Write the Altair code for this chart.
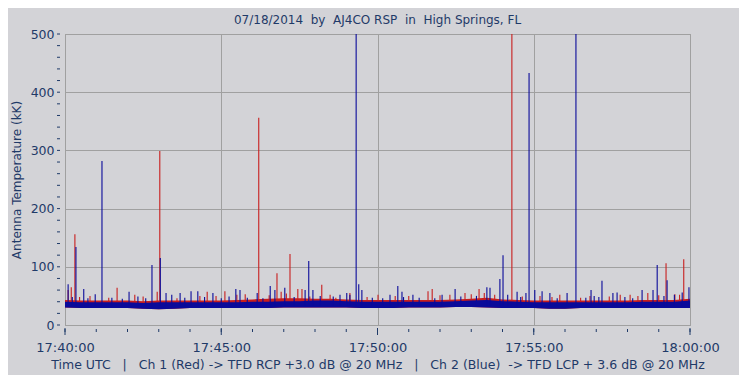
import json
import altair as alt
import pandas as pd

# ---------------- data ----------------
# time is seconds after 17:40:00 UTC
x_tick_values = [0, 300, 600, 900, 1200]
x_tick_labels = ["17:40:00", "17:45:00", "17:50:00", "17:55:00", "18:00:00"]
x_minor_ticks = [0, 60, 120, 180, 240, 300, 360, 420, 480, 540, 600, 660, 720,
                 780, 840, 900, 960, 1020, 1080, 1140, 1200]
y_tick_values = [0, 100, 200, 300, 400, 500]
y_minor_ticks = [0, 20, 40, 60, 80, 100, 120, 140, 160, 180, 200, 220, 240, 260,
                 280, 300, 320, 340, 360, 380, 400, 420, 440, 460, 480, 500]

band_t = [0, 30, 60, 90, 120, 150, 180, 210, 240, 270, 300, 330, 360, 390, 420,
          450, 480, 510, 540, 570, 600, 630, 660, 690, 720, 750, 780, 810, 840,
          870, 900, 930, 960, 990, 1020, 1050, 1080, 1110, 1140, 1170, 1200]
blue_lo = [30, 29, 29, 29, 29, 28, 27, 28, 29, 29, 29, 29, 29, 29, 30, 30, 30, 30,
           30, 29, 29, 29, 30, 30, 30, 31, 31, 30, 29, 29, 29, 28, 28, 29, 29, 29,
           29, 29, 29, 29, 29]
blue_hi = [40, 39, 39, 39, 39, 38, 39, 39, 39, 39, 39, 39, 40, 40, 41, 41, 42, 42,
           41, 40, 40, 40, 40, 40, 40, 41, 42, 43, 41, 40, 39, 39, 39, 39, 39, 39,
           39, 40, 40, 40, 42]
red_hi = [43, 42, 42, 42, 42, 41, 42, 42, 42, 42, 42, 43, 44, 45, 46, 46, 45, 45,
          44, 43, 43, 43, 43, 43, 43, 44, 45, 47, 44, 43, 42, 42, 42, 42, 42, 42,
          42, 43, 43, 43, 45]

spike_base = 34
red_spike_t = [19, 182, 372, 407, 432, 858, 1154, 1188,
               6, 12, 100, 177, 273, 307, 415, 447, 455, 493, 509, 601, 697, 705,
               768, 795, 1085, 1171,
               48, 134, 259, 346, 547, 634, 739, 912, 950, 1008, 1066, 1119,
               28, 84, 150, 215, 290, 330, 392, 425, 470, 520, 580, 660, 720,
               780, 805, 825, 878, 935, 990, 1045, 1100, 1140, 1180]
red_spike_v = [156, 299, 356, 89, 122, 500, 106, 113,
               60, 65, 64, 57, 57, 58, 57, 62, 62, 69, 52, 52, 58, 62,
               55, 62, 52, 53,
               50, 52, 50, 53, 55, 50, 52, 50, 52, 50, 52, 55,
               48, 47, 49, 46, 50, 52, 51, 54, 49, 47, 48, 50, 51,
               53, 55, 52, 49, 48, 47, 49, 50, 51, 52]
blue_spike_t = [21, 71, 167, 183, 468, 559, 841, 891, 981, 1031, 1137, 1156, 1198,
                6, 36, 58, 123, 194, 205, 221, 242, 255, 284, 328, 336, 369, 394,
                403, 422, 461, 476, 528, 541, 547, 564, 570, 624, 639, 647, 668,
                724, 749, 810, 816, 835, 868, 885, 902, 916, 931, 964, 1010, 1016,
                1025, 1052, 1060, 1108, 1129,
                14, 44, 90, 110, 140, 155, 230, 268, 300, 315, 350, 380, 440, 490,
                515, 590, 610, 650, 680, 710, 760, 790, 850, 875, 945, 1000, 1075,
                1090, 1150, 1170, 1185]
blue_spike_v = [134, 282, 103, 115, 110, 500, 120, 433, 500, 76, 103, 77, 65,
                70, 62, 53, 57, 55, 52, 55, 58, 58, 55, 62, 60, 55, 67,
                60, 64, 60, 60, 52, 55, 52, 70, 60, 52, 67, 57, 52,
                52, 62, 65, 64, 79, 57, 55, 60, 58, 55, 55, 60, 50,
                48, 55, 56, 60, 60,
                48, 46, 47, 45, 49, 46, 47, 48, 46, 49, 47, 46, 48, 50,
                49, 47, 46, 48, 47, 46, 49, 50, 52, 48, 46, 47, 48,
                46, 50, 52, 56]

TITLE = "07/18/2014\u00a0\u00a0by\u00a0\u00a0AJ4CO RSP\u00a0\u00a0in\u00a0\u00a0High Springs, FL"
X_TITLE = ("Time UTC\u00a0\u00a0\u00a0|\u00a0\u00a0\u00a0Ch 1 (Red) -> TFD RCP +3.0 dB @ 20 MHz"
           "\u00a0\u00a0\u00a0|\u00a0\u00a0\u00a0Ch 2 (Blue)\u00a0\u00a0-> TFD LCP + 3.6 dB @ 20 MHz")
Y_TITLE = "Antenna Temperature (kK)"

# ---------------- styling ----------------
BG = "#d3d3d7"
TXT = "#1f3a68"
RED = "#c81e1e"
BLUE = "#0a0a9a"
FONT = "DejaVu Sans"

band_df = pd.DataFrame({"t": band_t, "lo": blue_lo, "hi": blue_hi, "rhi": red_hi})
red_df = pd.DataFrame({"t": red_spike_t, "v": red_spike_v, "b": spike_base})
blue_df = pd.DataFrame({"t": blue_spike_t, "v": blue_spike_v, "b": spike_base})
xmin_df = pd.DataFrame({"t": x_minor_ticks})
xmaj_df = pd.DataFrame({"t": x_tick_values})
ymin_df = pd.DataFrame({"v": y_minor_ticks})

label_expr = json.dumps(x_tick_labels) + "[round(datum.value/300)]"

xscale = alt.Scale(domain=[0, 1200], nice=False, zero=False)
yscale = alt.Scale(domain=[0, 500], nice=False)

xaxis = alt.Axis(values=x_tick_values, labelExpr=label_expr, title=X_TITLE,
                 grid=True, gridColor="#a0a0a0", ticks=False, domain=False,
                 labelPadding=16, labelFontSize=13, labelColor=TXT, labelFont=FONT,
                 titleFontSize=12.5, titleColor=TXT, titleFont=FONT,
                 titleFontWeight="normal", titlePadding=4, labelFlush=False)
yaxis = alt.Axis(values=y_tick_values, title=Y_TITLE, grid=True, gridColor="#a0a0a0",
                 ticks=False, domain=False, labelPadding=11, labelFontSize=12.5,
                 labelColor=TXT, labelFont=FONT, titleFontSize=12, titleColor=TXT,
                 titleFont=FONT, titleFontWeight="normal", titlePadding=7)

X = alt.X("t:Q", scale=xscale, axis=xaxis)


def Y(field):
    return alt.Y(field, type="quantitative", scale=yscale, axis=yaxis)


red_band = alt.Chart(band_df).mark_area(color=RED, opacity=1).encode(
    x=X, y=Y("lo"), y2="rhi")
red_spikes = alt.Chart(red_df).mark_rule(color=RED, strokeWidth=1.1).encode(
    x=X, y=Y("b"), y2="v")
blue_band = alt.Chart(band_df).mark_area(color=BLUE, opacity=1).encode(
    x=X, y=Y("lo"), y2="hi")
blue_spikes = alt.Chart(blue_df).mark_rule(color=BLUE, strokeWidth=1.1).encode(
    x=X, y=Y("b"), y2="v")

x_minor = alt.Chart(xmin_df).mark_rule(color=TXT, strokeWidth=1).encode(
    x=X, y=alt.value(295), y2=alt.value(298))
x_major = alt.Chart(xmaj_df).mark_rule(color=TXT, strokeWidth=1).encode(
    x=X, y=alt.value(294), y2=alt.value(301))
y_minor = alt.Chart(ymin_df).mark_rule(color=TXT, strokeWidth=1).encode(
    y=Y("v"), x=alt.value(-8), x2=alt.value(-5))

chart = alt.layer(
    red_band, red_spikes, blue_band, blue_spikes, x_minor, x_major, y_minor
).properties(
    width=625, height=291,
    title=alt.TitleParams(TITLE, anchor="middle", offset=1, fontSize=12,
                          font=FONT, color=TXT, fontWeight="normal"),
    autosize=alt.AutoSizeParams(type="none"),
    padding={"left": 57, "top": 26, "right": 49, "bottom": 50},
).configure(background=BG).configure_view(stroke="#909090", strokeWidth=1)

chart.save("out.html", embed_options={"renderer": "svg", "actions": False})
